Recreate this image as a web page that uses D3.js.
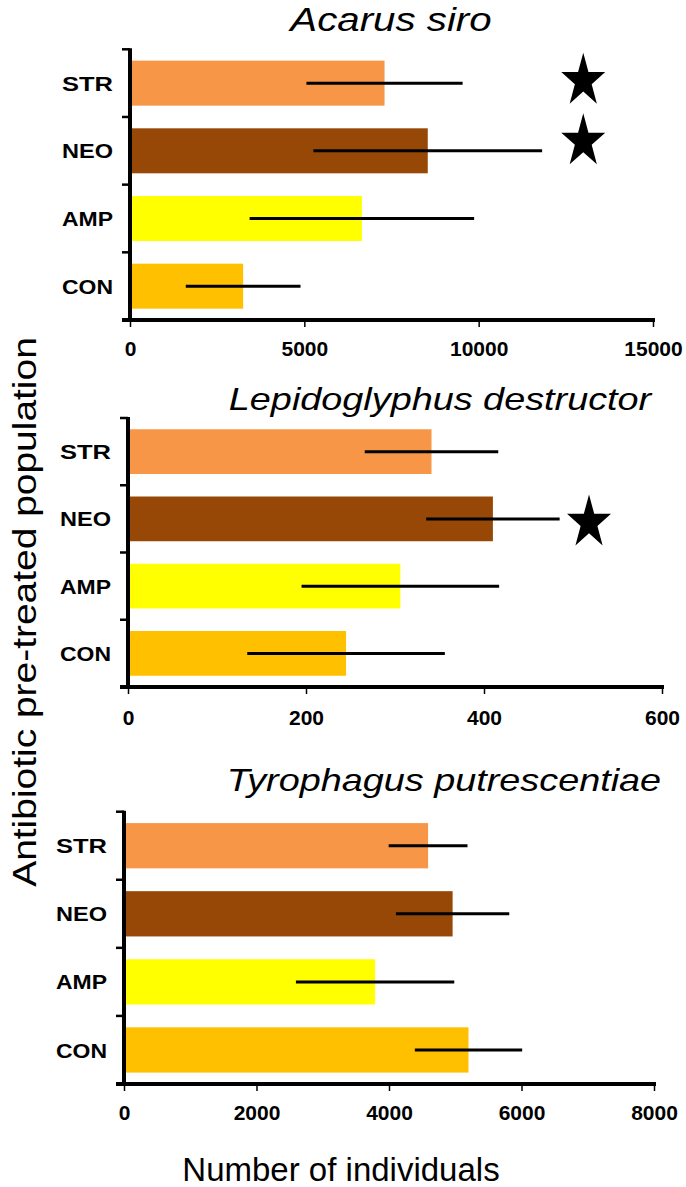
<!DOCTYPE html>
<html>
<head>
<meta charset="utf-8">
<script src="https://cdn.jsdelivr.net/npm/d3@7"></script>
<style>
  html, body { margin: 0; padding: 0; background: #fff; }
  svg { display: block; }
</style>
</head>
<body>
<svg id="chart" width="686" height="1187"></svg>
<script>
// ---------- data ----------
const categories = ["STR", "NEO", "AMP", "CON"];
const barColors = ["#F79646", "#974706", "#FFFF00", "#FFC000"];
const panelTitles = ["Acarus siro", "Lepidoglyphus destructor", "Tyrophagus putrescentiae"];

const acarusMeans = [7300, 8540, 6650, 3245];
const acarusSD    = [2240, 3280, 3220, 1645];
const lepidoMeans = [341, 410, 306, 245];
const lepidoSD    = [75, 75, 111, 111];
const tyroMeans   = [4590, 4960, 3790, 5200];
const tyroSD      = [595, 855, 1195, 810];

const acarusTicks = [0, 5000, 10000, 15000];
const lepidoTicks = [0, 200, 400, 600];
const tyroTicks   = [0, 2000, 4000, 6000, 8000];

// significance stars: category + x position in data units
const acarusStars = [{ cat: "STR", x: 13000 }, { cat: "NEO", x: 13000 }];
const lepidoStars = [{ cat: "NEO", x: 518 }];
const tyroStars   = [];

const yAxisTitle = "Antibiotic pre-treated population";
const xAxisTitle = "Number of individuals";

// ---------- layout ----------
const panels = [
  { title: panelTitles[0], means: acarusMeans, sd: acarusSD, ticks: acarusTicks, stars: acarusStars,
    top: 49.3, axisY: 320, x0: 130, x1: 653, titleX: 391, titleY: 31, titleSize: 33, labelY: 356, starDy: [-5, -12] },
  { title: panelTitles[1], means: lepidoMeans, sd: lepidoSD, ticks: lepidoTicks, stars: lepidoStars,
    top: 418, axisY: 687, x0: 128, x1: 662, titleX: 440, titleY: 410, titleSize: 31, labelY: 725, starDy: [1] },
  { title: panelTitles[2], means: tyroMeans, sd: tyroSD, ticks: tyroTicks, stars: tyroStars,
    top: 811.7, axisY: 1084, x0: 124, x1: 654, titleX: 444, titleY: 791, titleSize: 31, labelY: 1120, starDy: [] }
];

const svg = d3.select("#chart");
const FONT = "'Liberation Sans', Arial, Helvetica, sans-serif";

// star path (regular 5-point star) fitted to a w x h bounding box centred on 0,0
function starPath(w, h) {
  const pts = [];
  const R = 1, r = 0.382;
  for (let i = 0; i < 10; i++) {
    const a = -Math.PI / 2 + i * Math.PI / 5;
    const rad = i % 2 === 0 ? R : r;
    pts.push([Math.cos(a) * rad, Math.sin(a) * rad]);
  }
  const bw = 2 * Math.sin(2 * Math.PI / 5), bh = 1 + Math.cos(Math.PI / 5);
  const cy = (-1 + Math.cos(Math.PI / 5)) / 2;
  const sx = w / bw, sy = h / bh;
  return d3.line()(pts.map(p => [p[0] * sx, (p[1] - cy) * sy])) + "Z";
}

panels.forEach((p) => {
  const g = svg.append("g");
  const x = d3.scaleLinear().domain([p.ticks[0], p.ticks[p.ticks.length - 1]]).range([p.x0, p.x1]);
  const y = d3.scaleBand().domain(categories).range([p.top, p.axisY])
    .paddingInner(0.335).paddingOuter(0.1675);
  const rows = categories.map((c, i) => ({ cat: c, mean: p.means[i], sd: p.sd[i], color: barColors[i] }));

  // bars
  g.selectAll("rect.bar").data(rows).join("rect")
    .attr("class", "bar")
    .attr("x", x(0))
    .attr("y", d => y(d.cat))
    .attr("width", d => x(d.mean) - x(0))
    .attr("height", y.bandwidth())
    .attr("fill", d => d.color);

  // error bars (horizontal line mean ± sd)
  g.selectAll("line.err").data(rows).join("line")
    .attr("class", "err")
    .attr("x1", d => x(d.mean - d.sd))
    .attr("x2", d => x(d.mean + d.sd))
    .attr("y1", d => y(d.cat) + y.bandwidth() / 2)
    .attr("y2", d => y(d.cat) + y.bandwidth() / 2)
    .attr("stroke", "#000").attr("stroke-width", 3);

  // x axis
  const xAxis = d3.axisBottom(x).tickValues(p.ticks).tickSize(6).tickSizeOuter(0).tickFormat(d3.format("d"));
  const ax = g.append("g").attr("transform", `translate(0,${p.axisY})`).call(xAxis);
  ax.select(".domain").remove();
  ax.selectAll(".tick line").attr("stroke", "#000").attr("stroke-width", 1.5).attr("y1", 1.5).attr("y2", 7);
  ax.selectAll(".tick text")
    .attr("y", null).attr("dy", null)
    .attr("transform", `translate(0,${p.labelY - p.axisY})`)
    .attr("font-family", FONT).attr("font-size", 21).attr("font-weight", "bold").attr("fill", "#000");
  g.append("line")
    .attr("x1", p.x0 - 8).attr("x2", x.range()[1] + 2)
    .attr("y1", p.axisY).attr("y2", p.axisY)
    .attr("stroke", "#000").attr("stroke-width", 3.8);

  // y axis line
  g.append("line")
    .attr("x1", p.x0).attr("x2", p.x0)
    .attr("y1", p.top - 1).attr("y2", p.axisY)
    .attr("stroke", "#000").attr("stroke-width", 4);
  // y ticks at band boundaries
  const bounds = categories.map(c => y(c) - y.step() * y.paddingInner() / 2).concat([p.axisY]);
  bounds[0] = p.top;
  g.selectAll("line.ytick").data(bounds).join("line")
    .attr("class", "ytick")
    .attr("x1", p.x0 - 8).attr("x2", p.x0)
    .attr("y1", d => d).attr("y2", d => d)
    .attr("stroke", "#000").attr("stroke-width", 2.5);

  // category labels
  g.selectAll("text.cat").data(rows).join("text")
    .attr("class", "cat")
    .attr("x", p.x0 - 68)
    .attr("y", d => y(d.cat) + y.bandwidth() / 2)
    .attr("dy", "0.36em")
    .attr("textLength", 51)
    .attr("lengthAdjust", "spacingAndGlyphs")
    .attr("font-family", FONT).attr("font-size", 21).attr("font-weight", "bold")
    .text(d => d.cat);

  // stars
  g.selectAll("path.star").data(p.stars).join("path")
    .attr("class", "star")
    .attr("d", starPath(44, 51))
    .attr("transform", (d, i) => `translate(${x(d.x)},${y(d.cat) + y.bandwidth() / 2 + (p.starDy[i] || 0)})`)
    .attr("fill", "#000");

  // panel title
  g.append("text")
    .attr("transform", `translate(${p.titleX},${p.titleY}) scale(1.22,1)`)
    .attr("text-anchor", "middle")
    .attr("font-family", FONT).attr("font-size", p.titleSize).attr("font-style", "italic")
    .text(p.title);
});

// axis titles
svg.append("text")
  .attr("transform", "translate(36,612) rotate(-90) scale(1.18,1)")
  .attr("text-anchor", "middle")
  .attr("font-family", FONT).attr("font-size", 33)
  .text(yAxisTitle);

svg.append("text")
  .attr("x", 341).attr("y", 1181)
  .attr("text-anchor", "middle")
  .attr("font-family", FONT).attr("font-size", 33)
  .text(xAxisTitle);
</script>
</body>
</html>
